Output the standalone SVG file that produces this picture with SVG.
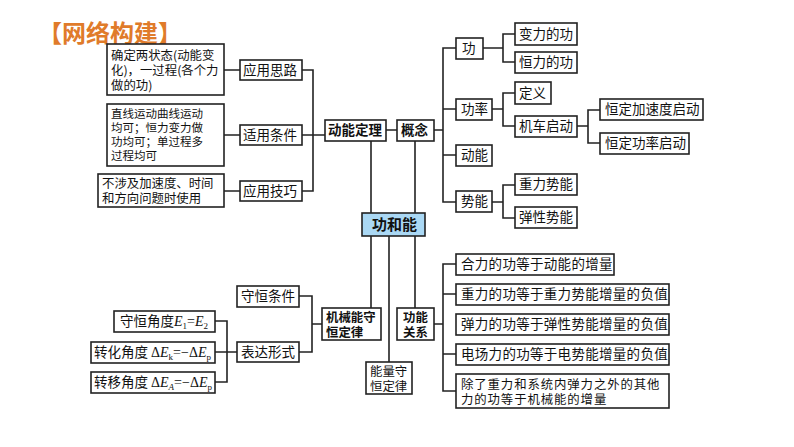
<svg xmlns="http://www.w3.org/2000/svg" width="794" height="447" viewBox="0 0 794 447">
<style>
rect.b{fill:#fff;stroke:#222;stroke-width:1.6}
rect.c{fill:#aad8f4;stroke:#222;stroke-width:1.6}
text{font-family:"Noto Sans CJK SC","Noto Sans CJK JP",sans-serif;font-size:13.5px;fill:#111}
text.s{font-size:11.5px}
text.t{font-size:12.4px}
text.k{font-weight:bold}
tspan.m{font-family:"Liberation Serif",serif;font-size:14px}
tspan.i{font-family:"Liberation Serif",serif;font-size:14px;font-style:italic}
tspan.u{font-family:"Liberation Serif",serif;font-size:9px}
#links path{fill:none;stroke:#222;stroke-width:1.6}
</style>
<rect width="794" height="447" fill="#fff"/>
<text x="38" y="42" style="font-size:24px;font-weight:bold;fill:#e07b2a">【网络构建】</text>
<g id="links">
<path d="M224 70H240M224 135H240M224 191H240M302 70H313V191H302M302 135H325"/>
<path d="M386 130H397M371 141V213M415 141V213M371 236V308M389 236V362M415 236V308"/>
<path d="M434 130H443M456 48H443V202H456M443 109H456M443 155H456"/>
<path d="M483 48H503M515 34H503V62H515M492 109H503M515 93H503V126H515M577 126H588M600 110H588V143H600M492 202H503M515 185H503V218H515"/>
<path d="M434 324H443M456 264H443V391H456M443 294H456M443 354H456"/>
<path d="M299 296H312V352H299M312 324H322M215 321H227V382H215M215 352H237"/>
</g>
<g id="n1"><rect class="b" x="107" y="44" width="117" height="51"/><text class="t" x="111" y="60">确定两状态(动能变</text><text class="t" x="111" y="75">化)，一过程(各个力</text><text class="t" x="111" y="90">做的功)</text></g>
<g id="n2"><rect class="b" x="240" y="60" width="62" height="20"/><text x="243" y="75">应用思路</text></g>
<g id="n3"><rect class="b" x="107" y="104" width="117" height="62"/><text class="s" x="111" y="118">直线运动曲线运动</text><text class="s" x="111" y="132">均可；恒力变力做</text><text class="s" x="111" y="146">功均可；单过程多</text><text class="s" x="111" y="160">过程均可</text></g>
<g id="n4"><rect class="b" x="240" y="125" width="62" height="20"/><text x="243" y="140">适用条件</text></g>
<g id="n5"><rect class="b" x="98" y="174" width="126" height="33"/><text class="t" x="102" y="188">不涉及加速度、时间</text><text class="t" x="102" y="203">和方向问题时使用</text></g>
<g id="n6"><rect class="b" x="240" y="181" width="62" height="20"/><text x="243" y="196">应用技巧</text></g>
<g id="n7"><rect class="b" x="325" y="120" width="61" height="21"/><text class="k" x="328" y="135">动能定理</text></g>
<g id="n8"><rect class="b" x="397" y="120" width="37" height="21"/><text class="k" x="401" y="135">概念</text></g>
<g id="n9"><rect class="c" x="362" y="213" width="63" height="23"/><text class="k" x="372" y="230" style="font-size:15px">功和能</text></g>
<g id="n10"><rect class="b" x="456" y="38" width="27" height="21"/><text x="462" y="53">功</text></g>
<g id="n11"><rect class="b" x="456" y="99" width="36" height="21"/><text x="461" y="114">功率</text></g>
<g id="n12"><rect class="b" x="456" y="145" width="36" height="21"/><text x="461" y="160">动能</text></g>
<g id="n13"><rect class="b" x="456" y="191" width="36" height="21"/><text x="461" y="206">势能</text></g>
<g id="n14"><rect class="b" x="515" y="23" width="62" height="22"/><text x="519" y="39">变力的功</text></g>
<g id="n15"><rect class="b" x="515" y="52" width="62" height="21"/><text x="519" y="67">恒力的功</text></g>
<g id="n16"><rect class="b" x="515" y="82" width="36" height="22"/><text x="519" y="98">定义</text></g>
<g id="n17"><rect class="b" x="515" y="116" width="62" height="21"/><text x="519" y="131">机车启动</text></g>
<g id="n18"><rect class="b" x="600" y="99" width="103" height="21"/><text x="605" y="114">恒定加速度启动</text></g>
<g id="n19"><rect class="b" x="600" y="133" width="89" height="21"/><text x="605" y="148">恒定功率启动</text></g>
<g id="n20"><rect class="b" x="515" y="174" width="62" height="21"/><text x="519" y="189">重力势能</text></g>
<g id="n21"><rect class="b" x="515" y="207" width="62" height="21"/><text x="519" y="222">弹性势能</text></g>
<g id="n22"><rect class="b" x="322" y="308" width="59" height="32"/><text class="k t" x="326" y="322">机械能守</text><text class="k t" x="326" y="337">恒定律</text></g>
<g id="n23"><rect class="b" x="397" y="308" width="37" height="32"/><text class="k t" x="403" y="322">功能</text><text class="k t" x="403" y="337">关系</text></g>
<g id="n24"><rect class="b" x="366" y="362" width="46" height="32"/><text class="t" x="370" y="376">能量守</text><text class="t" x="370" y="391">恒定律</text></g>
<g id="n25"><rect class="b" x="237" y="286" width="62" height="21"/><text x="241" y="301">守恒条件</text></g>
<g id="n26"><rect class="b" x="237" y="342" width="62" height="20"/><text x="241" y="357">表达形式</text></g>
<g id="n27"><rect class="b" x="114" y="311" width="101" height="21"/><text x="120" y="326">守恒角度<tspan class="i">E</tspan><tspan class="u" dy="3">1</tspan><tspan class="m" dy="-3">=</tspan><tspan class="i">E</tspan><tspan class="u" dy="3">2</tspan></text></g>
<g id="n28"><rect class="b" x="91" y="342" width="124" height="21"/><text x="94" y="357">转化角度 <tspan class="m">Δ</tspan><tspan class="i">E</tspan><tspan class="u" dy="3">k</tspan><tspan class="m" dy="-3">=−Δ</tspan><tspan class="i">E</tspan><tspan class="u" dy="3">p</tspan></text></g>
<g id="n29"><rect class="b" x="91" y="372" width="124" height="21"/><text x="94" y="387">转移角度 <tspan class="m">Δ</tspan><tspan class="i">E</tspan><tspan class="u" font-style="italic" dy="3">A</tspan><tspan class="m" dy="-3">=−Δ</tspan><tspan class="i">E</tspan><tspan class="u" dy="3">p</tspan></text></g>
<g id="n30"><rect class="b" x="456" y="254" width="158" height="21"/><text x="461" y="269" letter-spacing="0.3">合力的功等于动能的增量</text></g>
<g id="n31"><rect class="b" x="456" y="284" width="213" height="21"/><text x="461" y="299" letter-spacing="0.3">重力的功等于重力势能增量的负值</text></g>
<g id="n32"><rect class="b" x="456" y="314" width="213" height="21"/><text x="461" y="329" letter-spacing="0.3">弹力的功等于弹性势能增量的负值</text></g>
<g id="n33"><rect class="b" x="456" y="344" width="213" height="21"/><text x="461" y="359" letter-spacing="0.3">电场力的功等于电势能增量的负值</text></g>
<g id="n34"><rect class="b" x="456" y="374" width="213" height="34"/><text class="t" x="461" y="389" letter-spacing="0.9">除了重力和系统内弹力之外的其他</text><text class="t" x="461" y="404" letter-spacing="0.9">力的功等于机械能的增量</text></g>
</svg>
